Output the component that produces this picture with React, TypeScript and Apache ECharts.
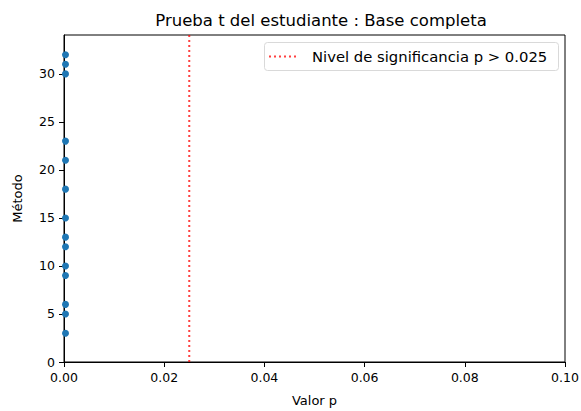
import React, { useEffect, useRef } from "react";
import * as echarts from "echarts";

const titleText = "Prueba t del estudiante : Base completa";
const xLabel = "Valor p";
const yLabel = "Método";
const legendLabel = "Nivel de significancia p > 0.025";
const metodoValues = [3, 5, 6, 9, 10, 12, 13, 15, 18, 21, 23, 30, 31, 32];
const pValues = [0.0003, 0.0003, 0.0003, 0.0003, 0.0003, 0.0003, 0.0003, 0.0003, 0.0003, 0.0003, 0.0003, 0.0003, 0.0003, 0.0003];
const threshold = 0.025;
const xTicks = [0, 0.02, 0.04, 0.06, 0.08, 0.1];
const yTicks = [0, 5, 10, 15, 20, 25, 30];

const FONT = "DejaVu Sans";

export default function App() {
  const ref = useRef<HTMLDivElement>(null);
  useEffect(() => {
    if (!ref.current) return;
    const chart = echarts.init(ref.current, undefined, { renderer: "svg" });
    const left = 64, right = 16, top = 35, bottom = 49;
    chart.setOption({
      animation: false,
      backgroundColor: "#ffffff",
      title: {
        text: titleText,
        left: 316,
        textAlign: "center",
        top: 7,
        textStyle: { fontFamily: FONT, fontSize: 16.5, fontWeight: "normal", color: "#000" },
      },
      grid: {
        left, right, top, bottom,
        containLabel: false,
        outerBoundsMode: "none",
        show: true,
        borderColor: "#000",
        borderWidth: 1,
        backgroundColor: "transparent",
      },
      xAxis: {
        type: "value",
        min: 0,
        max: 0.1,
        interval: 0.02,
        name: xLabel,
        nameLocation: "middle",
        nameGap: 32,
        nameTextStyle: { fontFamily: FONT, fontSize: 13, color: "#000" },
        axisLine: { show: true, onZero: false, lineStyle: { color: "#000", width: 1 } },
        axisTick: { show: true, length: 5, lineStyle: { color: "#000" }, customValues: xTicks },
        axisLabel: {
          fontFamily: FONT, fontSize: 12.5, color: "#000", margin: 9,
          customValues: xTicks,
          formatter: (v: number) => v.toFixed(2),
        },
        splitLine: { show: false },
      },
      yAxis: {
        type: "value",
        min: 0,
        max: 34.05,
        name: yLabel,
        nameLocation: "middle",
        nameGap: 40,
        nameTextStyle: { fontFamily: FONT, fontSize: 13, color: "#000" },
        axisLine: { show: true, onZero: false, lineStyle: { color: "#000", width: 1 } },
        axisTick: { show: true, length: 5, lineStyle: { color: "#000" }, customValues: yTicks },
        axisLabel: {
          fontFamily: FONT, fontSize: 12.5, color: "#000", margin: 9,
          customValues: yTicks,
        },
        splitLine: { show: false },
      },
      series: [
        {
          type: "scatter",
          data: metodoValues.map((m, i) => [pValues[i], m]),
          symbolSize: 7,
          itemStyle: { color: "#1f77b4", opacity: 1 },
        },
        {
          type: "line",
          name: legendLabel,
          data: [[threshold, 0], [threshold, 34.05]],
          symbol: "none",
          lineStyle: { color: "#ff0000", width: 2, type: [2, 3], opacity: 0.75 },
        },
      ],
      graphic: [
        {
          type: "rect",
          shape: { x: 264.5, y: 42.5, width: 294, height: 28, r: 3 },
          style: { fill: "rgba(255,255,255,0.8)", stroke: "#d9d9d9", lineWidth: 1 },
        },
        {
          type: "line",
          shape: { x1: 269, y1: 56.5, x2: 297, y2: 56.5 },
          style: { stroke: "#ff0000", lineWidth: 2, lineDash: [2, 3], opacity: 0.75 },
        },
        {
          type: "text",
          x: 312,
          y: 56.5,
          style: {
            text: legendLabel,
            fontFamily: FONT,
            fontSize: 14.8,
            fill: "#000",
            verticalAlign: "middle",
            align: "left",
          },
        },
      ],
    });
    return () => chart.dispose();
  }, []);
  return <div ref={ref} style={{ width: 581, height: 411, position: "absolute", left: 0, top: 0 }} />;
}
